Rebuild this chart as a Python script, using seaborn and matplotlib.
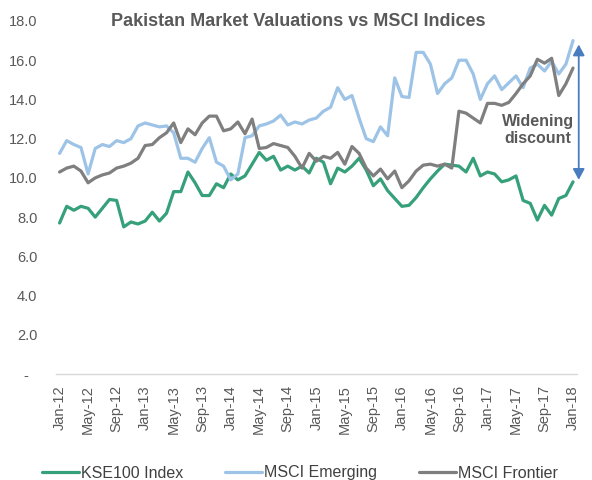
import pandas as pd
import seaborn as sns
import matplotlib.pyplot as plt

# monthly P/E readings, Jan-12 .. Jan-18
kse100 = [7.7, 8.55, 8.35, 8.55, 8.45, 8.0, 8.45, 8.9, 8.85, 7.5, 7.75, 7.65,
          7.8, 8.25, 7.8, 8.2, 9.3, 9.3, 10.3, 9.75, 9.1, 9.1, 9.7, 9.5,
          10.2, 9.9, 10.1, 10.7, 11.3, 10.9, 11.1, 10.4, 10.6, 10.4, 10.6, 10.25,
          11.0, 10.8, 9.7, 10.5, 10.3, 10.6, 11.0, 10.4, 9.6, 9.95, 9.35, 8.95,
          8.55, 8.6, 9.0, 9.5, 9.95, 10.35, 10.7, 10.65, 10.6, 10.3, 11.0, 10.1,
          10.3, 10.2, 9.8, 9.9, 10.1, 8.85, 8.7, 7.85, 8.6, 8.1, 8.95, 9.1,
          9.8]
msci_em = [11.25, 11.9, 11.7, 11.55, 10.2, 11.5, 11.7, 11.6, 11.9, 11.8, 12.0, 12.65,
           12.8, 12.7, 12.6, 12.65, 12.3, 11.0, 11.0, 10.8, 11.5, 12.05, 10.8, 10.6,
           9.9, 10.2, 12.05, 12.15, 12.65, 12.75, 12.9, 13.2, 12.7, 12.85, 12.75, 12.95,
           13.05, 13.4, 13.6, 14.6, 14.0, 14.2, 13.05, 12.0, 11.85, 12.6, 12.15, 15.1,
           14.15, 14.1, 16.4, 16.4, 15.8, 14.3, 14.8, 15.1, 16.0, 16.0, 15.3, 14.0,
           14.8, 15.2, 14.5, 14.85, 15.2, 14.6, 15.6, 15.8, 15.45, 15.95, 15.3, 15.8,
           17.0]
msci_fm = [10.3, 10.5, 10.6, 10.35, 9.75, 10.0, 10.15, 10.25, 10.5, 10.6, 10.75, 11.0,
           11.65, 11.7, 12.05, 12.3, 12.8, 11.8, 12.5, 12.2, 12.8, 13.15, 13.15, 12.4,
           12.5, 12.85, 12.25, 13.0, 11.5, 11.55, 11.75, 11.65, 11.55, 11.1, 10.5, 11.25,
           10.85, 11.1, 11.0, 11.3, 10.7, 11.6, 11.25, 10.5, 10.1, 10.45, 9.95, 10.35,
           9.5, 9.85, 10.35, 10.65, 10.7, 10.6, 10.7, 10.5, 13.4, 13.3, 13.05, 12.8,
           13.8, 13.8, 13.7, 13.85, 14.3, 14.8, 15.2, 16.05, 15.85, 16.1, 14.2, 14.8,
           15.6]
series_names = ['KSE100 Index', 'MSCI Emerging', 'MSCI Frontier']
tick_labels = ['Jan-12', 'May-12', 'Sep-12', 'Jan-13', 'May-13', 'Sep-13', 'Jan-14',
               'May-14', 'Sep-14', 'Jan-15', 'May-15', 'Sep-15', 'Jan-16', 'May-16',
               'Sep-16', 'Jan-17', 'May-17', 'Sep-17', 'Jan-18']
y_ticks = [0, 2, 4, 6, 8, 10, 12, 14, 16, 18]

n = len(kse100)
df = pd.DataFrame({
    'month': list(range(n)) * 3,
    'pe': kse100 + msci_em + msci_fm,
    'series': [s for s in series_names for _ in range(n)],
})

sns.set_style('white')
plt.rcParams['font.family'] = ['Liberation Sans', 'DejaVu Sans']
grey_txt = '#595959'

fig = plt.figure(figsize=(5.92, 4.8), dpi=100)
ax = fig.add_axes([56 / 592, 106 / 480, 520.6 / 592, 353 / 480])
sns.lineplot(data=df, x='month', y='pe', hue='series', hue_order=series_names,
             palette=['#35a07a', '#9dc3e6', '#7f7f7f'], linewidth=2.3, ax=ax)

ax.set_xlim(-0.5, n - 0.5)
ax.set_ylim(0, 18)
ax.set_xlabel('')
ax.set_ylabel('')

ax.set_xticks(range(0, n, 4))
ax.set_xticklabels(tick_labels, rotation=90, fontsize=10.5, color=grey_txt)
ax.set_xticks([i - 0.5 for i in range(0, n, 4)] + [n - 0.5], minor=True)
ax.tick_params(axis='x', which='major', length=0, pad=8)
ax.tick_params(axis='x', which='minor', length=4, width=1, color='#d9d9d9', direction='out')
ax.set_yticks(y_ticks)
ax.set_yticklabels(['-  ' if v == 0 else f'{v:.1f}' for v in y_ticks],
                   fontsize=10.5, color=grey_txt)
ax.tick_params(axis='y', length=0, pad=13.5)

for side in ['left', 'top', 'right']:
    ax.spines[side].set_visible(False)
ax.spines['bottom'].set_color('#d9d9d9')
ax.spines['bottom'].set_linewidth(1)

fig.text(298 / 592, 1 - 22 / 480, 'Pakistan Market Valuations vs MSCI Indices',
         ha='center', va='center', fontsize=13, fontweight='bold', color=grey_txt)

ax.annotate('', xy=(72.8, 16.8), xytext=(72.8, 9.9), annotation_clip=False,
            arrowprops=dict(arrowstyle='<|-|>,head_length=0.65,head_width=0.35',
                            color='#4a7cc0', lw=1.3, shrinkA=0, shrinkB=0))
ax.text(67.1, 12.45, 'Widening\ndiscount', ha='center', va='center', fontsize=11.5,
        fontweight='bold', color=grey_txt, linespacing=1.15)

handles, labels = ax.get_legend_handles_labels()
ax.legend(handles, labels, loc='center', ncol=3, frameon=False, fontsize=11.5,
          bbox_to_anchor=(300 / 592, 1 - 473 / 480), bbox_transform=fig.transFigure,
          handlelength=2.3, handletextpad=0.15, columnspacing=2.6, borderpad=0,
          labelcolor='#404040')

fig.savefig('out.png', dpi=100)
